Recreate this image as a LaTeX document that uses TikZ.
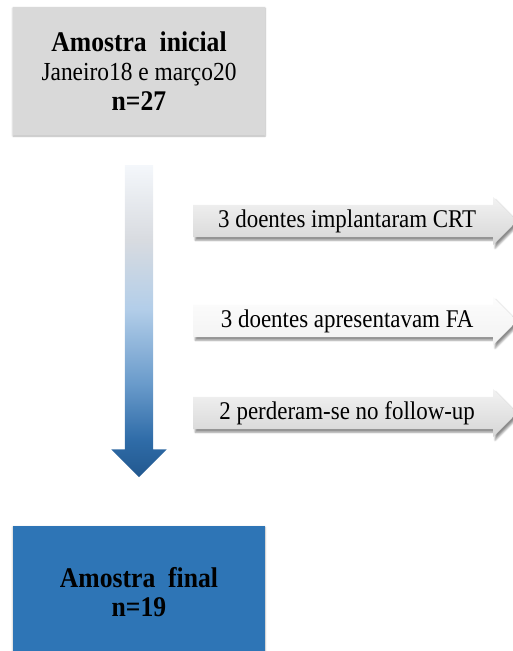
\documentclass[tikz,border=0pt]{standalone}
\usepackage{fontspec}
\setmainfont{Liberation Serif}[FakeStretch=0.9]
\usepackage{xcolor}
\usetikzlibrary{shapes.arrows}
\usetikzlibrary{shadows.blur}

\definecolor{initgray}{HTML}{D9D9D9}
\definecolor{finalblue}{HTML}{2E75B6}
\definecolor{flowA}{HTML}{F4F7FB}
\definecolor{flowB}{HTML}{D8DBE0}
\definecolor{flowC}{HTML}{B3CEE9}
\definecolor{flowD}{HTML}{6A9BCB}
\definecolor{flowE}{HTML}{2F6CA8}
\definecolor{flowF}{HTML}{22588F}
\pgfdeclareverticalshading{flowshade}{100bp}{color(0bp)=(flowF); color(25bp)=(flowF); color(31bp)=(flowE); color(40bp)=(flowD); color(52bp)=(flowC); color(63bp)=(flowB); color(75bp)=(flowA); color(100bp)=(flowA)}
\newcommand{\boldline}[1]{{\fontsize{28.5}{29.5}\selectfont\bfseries #1}}

\begin{document}
\begin{tikzpicture}[x=1pt,y=-1pt]
\tikzstyle{samplebox} =[rectangle, minimum width=252pt, minimum height=128pt, inner sep=0pt, align=center, font=\fontsize{26}{29.5}\selectfont, blur shadow={shadow xshift=0pt, shadow yshift=-1pt, shadow blur steps=6, shadow opacity=30}]
\tikzstyle{lossarrow} =[single arrow, anchor=tail, minimum height=324pt, minimum width=48pt, single arrow head extend=6.5pt, single arrow tip angle=90, inner xsep=0pt, inner ysep=1.5pt, font=\fontsize{25.5}{25.5}\selectfont, blur shadow={shadow xshift=2pt, shadow yshift=-3pt, shadow blur steps=5, shadow opacity=45}]

\useasboundingbox (0,0) rectangle (513,651);
\clip (0,0) rectangle (513,651);

% boxes
\node[samplebox, fill=initgray](inicial) at (139,71){\boldline{Amostra\ \ inicial}\\Janeiro18 e março20\\\boldline{n=27}};
\node[samplebox, fill=finalblue, minimum height=132pt](final) at (139,592){\boldline{Amostra\ \ final}\\\boldline{n=19}};

% main flow
\node[single arrow, shape border rotate=270, minimum height=312pt, minimum width=55pt, single arrow head extend=13.5pt, single arrow tip angle=90, inner sep=14pt, shading=flowshade](flow) at (139,314){};

% excluded
\node[lossarrow, top color=gray!10, bottom color=gray!32](crt) at (193,221){3 doentes implantaram CRT};
\node[lossarrow, top color=gray!2, bottom color=gray!10](fa) at (193,321){3 doentes apresentavam FA};
\node[lossarrow, top color=gray!10, bottom color=gray!32](fup) at (193,413){2 perderam-se no follow-up};
\end{tikzpicture}
\end{document}
